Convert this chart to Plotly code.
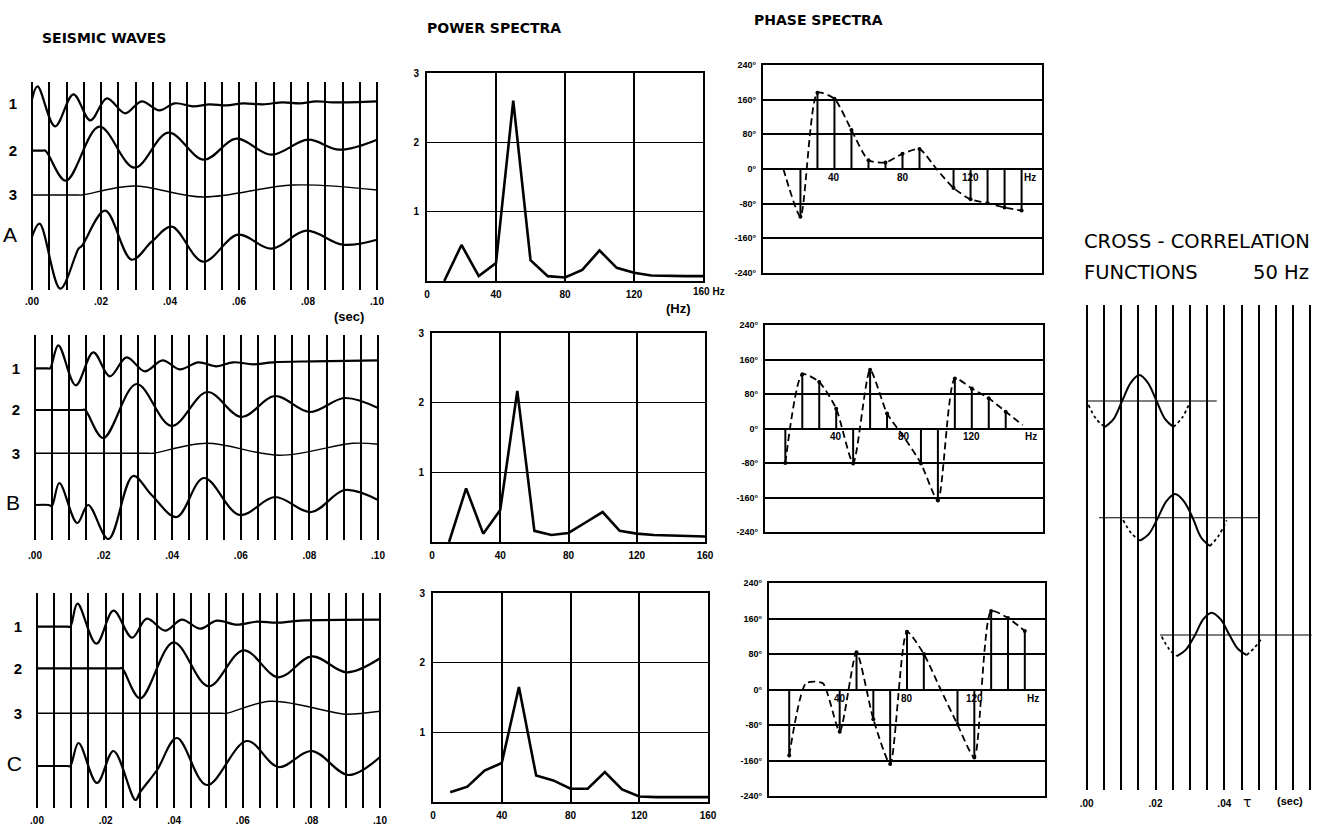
import plotly.graph_objects as go

W, H = 1320, 829

# ================= DATA =================
# --- Seismic waves: read-off points (time in s, deflection in trace units) ---
A1_t = [0.0, 0.0016, 0.0067, 0.0120, 0.0169, 0.0217, 0.0270, 0.0318, 0.0369, 0.0414, 0.0467, 0.0515, 0.0564, 0.0612, 0.0670, 0.0727, 0.0776, 0.0824, 0.0872, 0.1000]
A1_v = [4, 17, -23, 9, -17, 5, -10, 2, -7, 0, -3, -1, -2, 0, -1, 1, 0, 2, 1, 2]
A2_t = [0.0, 0.0030, 0.0039, 0.0098, 0.0195, 0.0297, 0.0395, 0.0498, 0.0592, 0.0694, 0.0800, 0.0891, 0.1000]
A2_v = [0, 0, 0, -30, 24, -17, 18, -9, 12, -4, 11, 1, 11]
A3_t = [0.0, 0.0130, 0.0145, 0.0294, 0.0496, 0.0756, 0.1000]
A3_v = [0, 0, 0, 9, -2, 10, 5]
AS_t = [0.0, 0.0022, 0.0082, 0.0135, 0.0145, 0.0212, 0.0289, 0.0347, 0.0405, 0.0496, 0.0597, 0.0694, 0.0795, 0.0901, 0.1000]
AS_v = [0, 13, -52, -12, -9, 26, -23, -5, 10, -25, 2, -12, 6, -8, -3]

B1_t = [0.0, 0.0036, 0.0044, 0.0068, 0.0119, 0.0170, 0.0218, 0.0267, 0.0320, 0.0372, 0.0422, 0.0476, 0.0529, 0.0578, 0.0636, 0.0694, 0.0811, 0.1000]
B1_v = [0, 0, 0, 23, -17, 16, -8, 11, -3, 8, -1, 6, 2, 6, 4, 6, 7, 8]
B2_t = [0.0, 0.0136, 0.0146, 0.0199, 0.0296, 0.0398, 0.0502, 0.0602, 0.0699, 0.0801, 0.0903, 0.1000]
B2_v = [0, 0, 0, -28, 26, -16, 18, -7, 14, -2, 12, 2]
B3_t = [0.0, 0.0330, 0.0345, 0.0500, 0.0714, 0.0927, 0.1000]
B3_v = [0, 0, 0, 10, -2, 10, 9]
BS_t = [0.0, 0.0040, 0.0049, 0.0071, 0.0123, 0.0155, 0.0214, 0.0286, 0.0340, 0.0413, 0.0492, 0.0597, 0.0699, 0.0806, 0.0903, 0.1000]
BS_v = [0, 0, -1, 22, -18, 0, -34, 29, 10, -12, 27, -10, 8, -7, 15, 5]

C1_t = [0.0, 0.0088, 0.0097, 0.0118, 0.0173, 0.0223, 0.0277, 0.0320, 0.0374, 0.0422, 0.0476, 0.0524, 0.0583, 0.0641, 0.0699, 0.0767, 0.1000]
C1_v = [0, 0, 0, 23, -17, 16, -11, 8, -4, 7, -2, 6, 2, 5, 4, 6, 7]
C2_t = [0.0, 0.0240, 0.0248, 0.0301, 0.0398, 0.0500, 0.0602, 0.0704, 0.0801, 0.0903, 0.1000]
C2_v = [0, 0, 0, -30, 26, -18, 18, -9, 12, -4, 10]
C3_t = [0.0, 0.0538, 0.0553, 0.0680, 0.0864, 0.0903, 0.1000]
C3_v = [0, 0, 0, 12, 1, -1, 2]
CS_t = [0.0, 0.0088, 0.0097, 0.0121, 0.0175, 0.0223, 0.0287, 0.0301, 0.0350, 0.0408, 0.0495, 0.0612, 0.0704, 0.0801, 0.0908, 0.1000]
CS_v = [0, 0, 0, 23, -17, 15, -34, -26, -4, 28, -19, 25, -1, 15, -9, 9]

trace_labels_A = ["1", "2", "3", "A"]
trace_labels_B = ["1", "2", "3", "B"]
trace_labels_C = ["1", "2", "3", "C"]

# --- Power spectra ---
power_freq = [10, 20, 30, 40, 50, 60, 70, 80, 90, 100, 110, 120, 130, 140, 150, 160]
power_A = [0.0, 0.52, 0.07, 0.26, 2.60, 0.30, 0.07, 0.05, 0.16, 0.44, 0.19, 0.12, 0.08, 0.07, 0.07, 0.07]
power_B = [0.0, 0.77, 0.12, 0.46, 2.17, 0.16, 0.10, 0.13, 0.28, 0.43, 0.16, 0.12, 0.10, 0.09, 0.08, 0.08]
power_C = [0.14, 0.22, 0.45, 0.56, 1.65, 0.38, 0.31, 0.19, 0.19, 0.43, 0.18, 0.08, 0.07, 0.07, 0.07, 0.07]
power_xticks = [0, 40, 80, 120, 160]
power_yticks = [1, 2, 3]

# --- Phase spectra (degrees) ---
phase_freq = [10, 20, 30, 40, 50, 60, 70, 80, 90, 100, 110, 120, 130, 140, 150]
phase_A = [0, -110, 176, 162, 90, 20, 15, 35, 46, 0, -44, -70, -79, -89, -96]
phase_B = [-80, 126, 108, 46, -81, 136, 35, -20, -81, -167, 116, 93, 70, 39, 8]
phase_C = [-149, 14, 14, -95, 84, -67, -168, 130, 80, 0, -79, -153, 177, 161, 132]
stem_A = [0, 1, 1, 1, 1, 1, 1, 1, 1, 0, 1, 1, 1, 1, 1]
stem_B = [1, 1, 1, 1, 1, 1, 1, 0, 1, 1, 1, 1, 1, 1, 0]
stem_C = [1, 0, 0, 1, 1, 1, 1, 1, 1, 0, 1, 1, 1, 1, 1]
phase_yticks = [240, 160, 80, 0, -80, -160, -240]
phase_inner_labels = ["40", "80", "120", "Hz"]
phase_inner_pos = [40, 80, 120, 155]

# --- Cross-correlation functions (lag in s, normalised amplitude) ---
cc1_solid_t = [0.0053, 0.0078, 0.0103, 0.0128, 0.0153, 0.0178, 0.0203, 0.0228, 0.0252]
cc1_solid_v = [-1.0, -0.7, 0.0, 0.7, 1.0, 0.7, 0.0, -0.7, -1.0]
cc1_dotL_t = [0.0005, 0.0028, 0.0053]
cc1_dotL_v = [-0.15, -0.7, -1.0]
cc1_dotR_t = [0.0252, 0.0277, 0.0300]
cc1_dotR_v = [-1.0, -0.65, -0.05]
cc1_base_t = [0.0, 0.0378]

cc2_solid_t = [0.0155, 0.0181, 0.0207, 0.0232, 0.0257, 0.0282, 0.0308, 0.0333, 0.0358]
cc2_solid_v = [-0.88, -0.62, 0.0, 0.64, 0.91, 0.64, 0.0, -0.77, -1.09]
cc2_dotL_t = [0.0106, 0.0130, 0.0155]
cc2_dotL_v = [-0.09, -0.6, -0.88]
cc2_dotR_t = [0.0358, 0.0383, 0.0407]
cc2_dotR_v = [-1.09, -0.7, -0.1]
cc2_base_t = [0.0036, 0.0504]

cc3_solid_t = [0.0262, 0.0288, 0.0315, 0.0339, 0.0363, 0.0389, 0.0415, 0.0440, 0.0465]
cc3_solid_v = [-0.81, -0.57, 0.0, 0.61, 0.86, 0.61, 0.0, -0.54, -0.77]
cc3_dotL_t = [0.0218, 0.0240, 0.0262]
cc3_dotL_v = [-0.06, -0.55, -0.81]
cc3_dotR_t = [0.0465, 0.0487, 0.0509]
cc3_dotR_v = [-0.77, -0.5, -0.13]
cc3_base_t = [0.0213, 0.0654]

sec_ticks = [0.00, 0.02, 0.04, 0.06, 0.08, 0.10]
sec_text = [".00", ".02", ".04", ".06", ".08", ".10"]
cc_ticks = [0.00, 0.02, 0.04]
cc_text = [".00", ".02", ".04"]

# ================= LAYOUT HELPERS =================
FONT = "Liberation Sans"
BLACK = "black"


def xd(a, b):
    return [a / W, b / W]


def yd(top, bottom):
    return [1 - bottom / H, 1 - top / H]


def ax_names(k):
    s = "" if k == 1 else str(k)
    return "xaxis" + s, "yaxis" + s, "x" + s, "y" + s


fig = go.Figure()
layout = dict(width=W, height=H, margin=dict(l=0, r=0, t=0, b=0, autoexpand=False),
              paper_bgcolor="white", plot_bgcolor="white", showlegend=False,
              font=dict(family=FONT, color=BLACK))
annotations = []


def bold(s):
    return "<b>%s</b>" % s


# ---------- Seismic panels ----------
def seismic_panel(k, px0, px1, top, bottom, traces, offsets, labels, lab_shift):
    xa, ya, xr, yr = ax_names(k)
    pxs = (px1 - px0) / 0.1
    pad = 4
    grid = [i * 0.005 for i in range(21)]
    gtext = []
    for g in grid:
        lab = ""
        for tv, tt in zip(sec_ticks, sec_text):
            if abs(g - tv) < 1e-9:
                lab = bold(tt)
        gtext.append(lab)
    layout[xa] = dict(domain=xd(px0 - pad, px1 + pad), range=[-pad / pxs, 0.1 + pad / pxs],
                      tickvals=grid, ticktext=gtext, showgrid=True, gridcolor=BLACK, gridwidth=2,
                      zeroline=False, showline=False, ticks="outside", ticklen=lab_shift,
                      tickcolor="rgba(0,0,0,0)", tickfont=dict(size=10, family=FONT),
                      anchor=yr, fixedrange=True)
    ticktext = []
    for lab in labels:
        if lab in ("A", "B", "C"):
            ticktext.append('<span style="font-size:21px">%s</span>' % lab)
        else:
            ticktext.append(bold(lab))
    layout[ya] = dict(domain=yd(top, bottom), range=[-(bottom - top), 0],
                      tickvals=offsets, ticktext=ticktext, showgrid=False, zeroline=False,
                      showline=False, ticks="outside", ticklen=7, tickcolor="rgba(0,0,0,0)",
                      tickfont=dict(size=15, family=FONT), anchor=xr, fixedrange=True)
    widths = [2.2, 2.2, 1.4, 2.2]
    for (t, v), off, w in zip(traces, offsets, widths):
        fig.add_trace(go.Scatter(x=t, y=[off + d for d in v], mode="lines",
                                 line=dict(color=BLACK, width=w, shape="spline", smoothing=1.0),
                                 xaxis=xr, yaxis=yr, hoverinfo="skip"))


seismic_panel(1, 32, 377, 82, 290,
              [(A1_t, A1_v), (A2_t, A2_v), (A3_t, A3_v), (AS_t, AS_v)],
              [-21.3, -68.7, -113.0, -154.7], trace_labels_A, 2)
seismic_panel(2, 35, 378, 335, 540,
              [(B1_t, B1_v), (B2_t, B2_v), (B3_t, B3_v), (BS_t, BS_v)],
              [-33.3, -75.0, -118.3, -170.0], trace_labels_B, 6)
seismic_panel(3, 37, 380, 593, 808,
              [(C1_t, C1_v), (C2_t, C2_v), (C3_t, C3_v), (CS_t, CS_v)],
              [-33.7, -75.3, -120.3, -173.0], trace_labels_C, 3)


# ---------- Power spectra ----------
def power_panel(k, x0, x1, top, bottom, values, last_label):
    xa, ya, xr, yr = ax_names(k)
    xt = [bold(str(v)) for v in power_xticks]
    if not last_label:
        xt[-1] = ""
    layout[xa] = dict(domain=xd(x0, x1), range=[0, 160], tickvals=power_xticks, ticktext=xt,
                      showgrid=True, gridcolor=BLACK, gridwidth=1.8, showline=True, mirror=True,
                      linecolor=BLACK, linewidth=2, zeroline=False, ticks="outside", ticklen=3,
                      tickcolor="rgba(0,0,0,0)", tickfont=dict(size=10, family=FONT),
                      anchor=yr, fixedrange=True)
    layout[ya] = dict(domain=yd(top, bottom), range=[0, 3], tickvals=power_yticks,
                      ticktext=[bold(str(v)) for v in power_yticks],
                      showgrid=True, gridcolor=BLACK, gridwidth=1.4, showline=True, mirror=True,
                      linecolor=BLACK, linewidth=2, zeroline=False, ticks="outside", ticklen=4,
                      tickcolor="rgba(0,0,0,0)", tickfont=dict(size=10, family=FONT),
                      anchor=xr, fixedrange=True)
    fig.add_trace(go.Scatter(x=power_freq, y=values, mode="lines",
                             line=dict(color=BLACK, width=2.6), xaxis=xr, yaxis=yr,
                             hoverinfo="skip", cliponaxis=False))


power_panel(4, 427, 703, 73, 281, power_A, False)
power_panel(5, 432, 705, 333, 542, power_B, True)
power_panel(6, 433, 708, 593, 802, power_C, True)
annotations.append(dict(x=160, y=0, xref="x4", yref="y4", text=bold("160 Hz"), showarrow=False,
                        xanchor="left", yanchor="top", xshift=-12, yshift=-3,
                        font=dict(size=10, family=FONT)))
annotations.append(dict(x=146, y=0, xref="x4", yref="y4", text=bold("(Hz)"), showarrow=False,
                        xanchor="center", yanchor="top", yshift=-18,
                        font=dict(size=13, family=FONT)))


# ---------- Phase spectra ----------
def phase_panel(k, x0, x1, top, bottom, values, stems):
    xa, ya, xr, yr = ax_names(k)
    layout[xa] = dict(domain=xd(x0, x1), range=[-2, 162], showticklabels=False, showgrid=False,
                      showline=True, mirror=True, linecolor=BLACK, linewidth=2, zeroline=False,
                      ticks="", anchor=yr, fixedrange=True)
    layout[ya] = dict(domain=yd(top, bottom), range=[-240, 240], tickvals=phase_yticks,
                      ticktext=[bold("%d°" % v) for v in phase_yticks],
                      showgrid=True, gridcolor=BLACK, gridwidth=1.5, showline=True, mirror=True,
                      linecolor=BLACK, linewidth=2, zeroline=False, ticks="outside", ticklen=3,
                      tickcolor="rgba(0,0,0,0)", tickfont=dict(size=9, family=FONT),
                      anchor=xr, fixedrange=True)
    sx, sy, tx, ty = [], [], [], []
    for f, v, s in zip(phase_freq, values, stems):
        if s:
            sx += [f, f, None]
            sy += [0, v, None]
            tx.append(f)
            ty.append(v)
    fig.add_trace(go.Scatter(x=sx, y=sy, mode="lines", line=dict(color=BLACK, width=2),
                             xaxis=xr, yaxis=yr, hoverinfo="skip"))
    fig.add_trace(go.Scatter(x=tx, y=ty, mode="markers", marker=dict(color=BLACK, size=4),
                             xaxis=xr, yaxis=yr, hoverinfo="skip"))
    fig.add_trace(go.Scatter(x=phase_freq, y=values, mode="lines",
                             line=dict(color=BLACK, width=1.8, dash="7px,4px", shape="spline",
                                       smoothing=0.6),
                             xaxis=xr, yaxis=yr, hoverinfo="skip"))
    for lab, pos in zip(phase_inner_labels, phase_inner_pos):
        annotations.append(dict(x=pos, y=0, xref=xr, yref=yr, text=bold(lab), showarrow=False,
                                xanchor="center", yanchor="top", yshift=-1,
                                bgcolor="rgba(0,0,0,0)", font=dict(size=10, family=FONT)))


phase_panel(7, 763, 1042, 65, 273, phase_A, stem_A)
phase_panel(8, 765, 1043, 325, 532, phase_B, stem_B)
phase_panel(9, 769, 1045, 583, 796, phase_C, stem_C)

# ---------- Cross-correlation ----------
k = 10
xa, ya, xr, yr = ax_names(k)
cc_px0, cc_pxs = 1086.7, 3440.0
cc_grid = [i * 0.005 for i in range(14)]
cc_gtext = []
for g in cc_grid:
    lab = ""
    for tv, tt in zip(cc_ticks, cc_text):
        if abs(g - tv) < 1e-9:
            lab = bold(tt)
    cc_gtext.append(lab)
layout[xa] = dict(domain=xd(1080, 1316), range=[(1080 - cc_px0) / cc_pxs, (1316 - cc_px0) / cc_pxs],
                  tickvals=cc_grid, ticktext=cc_gtext, showgrid=True, gridcolor=BLACK, gridwidth=2,
                  zeroline=False, showline=False, ticks="outside", ticklen=4,
                  tickcolor="rgba(0,0,0,0)", tickfont=dict(size=10, family=FONT),
                  anchor=yr, fixedrange=True)
cc_top, cc_bot = 305, 790
amp_px = 26.0
base1_px = 401.0
layout[ya] = dict(domain=yd(cc_top, cc_bot),
                  range=[-(cc_bot - base1_px) / amp_px, (base1_px - cc_top) / amp_px],
                  showticklabels=False, showgrid=False, zeroline=False, showline=False,
                  anchor=xr, fixedrange=True)
cc_offsets = [0.0, -4.49, -9.0]
cc_sets = [
    (cc1_solid_t, cc1_solid_v, cc1_dotL_t, cc1_dotL_v, cc1_dotR_t, cc1_dotR_v, cc1_base_t),
    (cc2_solid_t, cc2_solid_v, cc2_dotL_t, cc2_dotL_v, cc2_dotR_t, cc2_dotR_v, cc2_base_t),
    (cc3_solid_t, cc3_solid_v, cc3_dotL_t, cc3_dotL_v, cc3_dotR_t, cc3_dotR_v, cc3_base_t),
]
for (st, sv, lt, lv, rt, rv, bt), off in zip(cc_sets, cc_offsets):
    fig.add_trace(go.Scatter(x=bt, y=[off, off], mode="lines", line=dict(color=BLACK, width=1.2),
                             xaxis=xr, yaxis=yr, hoverinfo="skip"))
    fig.add_trace(go.Scatter(x=st, y=[off + v for v in sv], mode="lines",
                             line=dict(color=BLACK, width=2, shape="spline", smoothing=1.0),
                             xaxis=xr, yaxis=yr, hoverinfo="skip"))
    for dt, dv in ((lt, lv), (rt, rv)):
        fig.add_trace(go.Scatter(x=dt, y=[off + v for v in dv], mode="lines",
                                 line=dict(color=BLACK, width=1.8, dash="dot", shape="spline"),
                                 xaxis=xr, yaxis=yr, hoverinfo="skip"))

annotations.append(dict(x=0.0467, y=yd(cc_top, cc_bot)[0], xref=xr, yref="paper", text="τ",
                        showarrow=False, xanchor="center", yanchor="top", yshift=-2,
                        font=dict(size=14, family="DejaVu Sans")))
annotations.append(dict(x=0.059, y=yd(cc_top, cc_bot)[0], xref=xr, yref="paper", text=bold("(sec)"),
                        showarrow=False, xanchor="center", yanchor="top", yshift=-3,
                        font=dict(size=11, family=FONT)))

# seismic A "(sec)"
annotations.append(dict(x=0.092, y=yd(82, 290)[0], xref="x", yref="paper", text=bold("(sec)"),
                        showarrow=False, xanchor="center", yanchor="top", yshift=-17,
                        font=dict(size=13, family=FONT)))


# ---------- Titles ----------
def title(text, px, py, anchor="left", size=15):
    annotations.append(dict(x=px / W, y=1 - py / H, xref="paper", yref="paper", text=text,
                            showarrow=False, xanchor=anchor, yanchor="middle",
                            font=dict(size=size, family="DejaVu Sans", color=BLACK)))


title(bold("SEISMIC&nbsp;WAVES"), 40, 38, size=14)
title(bold("POWER&nbsp;SPECTRA"), 425, 28, size=14)
title(bold("PHASE&nbsp;SPECTRA"), 752, 20, size=14)
title("CROSS&nbsp;-&nbsp;CORRELATION", 1082, 241, size=19.5)
title("FUNCTIONS", 1082, 272, size=19.5)
title("50 Hz", 1311, 272, anchor="right", size=19.5)

layout["annotations"] = annotations
fig.update_layout(**layout)
fig.write_html("out.html", config={"responsive": False, "displayModeBar": False},
               post_script="document.body.style.margin='0px';document.body.style.overflow='hidden';")
